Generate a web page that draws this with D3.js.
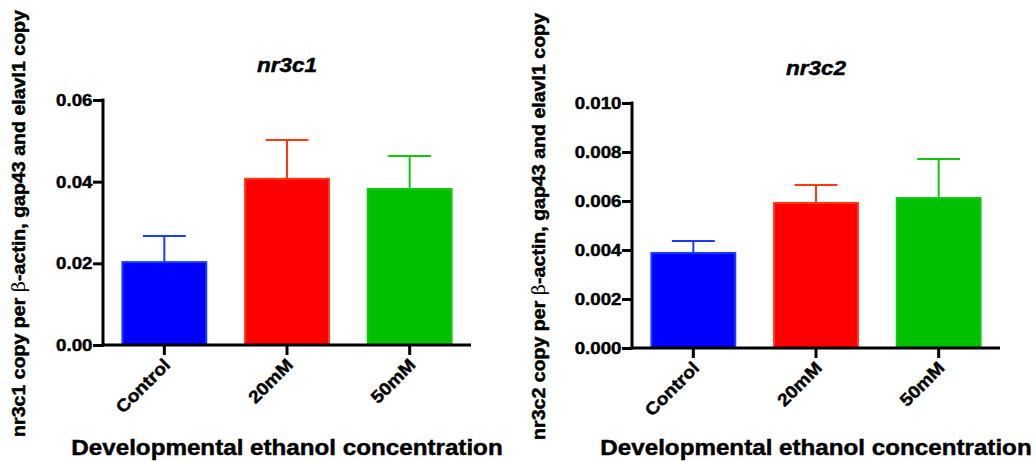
<!DOCTYPE html>
<html>
<head>
<meta charset="utf-8">
<script src="https://cdn.jsdelivr.net/npm/d3@7"></script>
<style>
  html, body { margin: 0; padding: 0; background: #fff; }
  svg { display: block; font-family: "Liberation Sans", Arial, sans-serif; }
  .lbl { fill: #000; stroke: #000; stroke-width: 0.45px; paint-order: stroke; }
</style>
</head>
<body>
<svg id="chart" width="1036" height="461"></svg>
<script>
// Groups on the x axis
const categories = ["Control", "20mM", "50mM"];

// nr3c1: mean and SEM per group
const nr3c1Means = [0.0203, 0.0407, 0.0382];
const nr3c1Sem   = [0.0064, 0.0095, 0.0081];
const nr3c1Ticks = [0, 0.02, 0.04, 0.06];

// nr3c2: mean and SEM per group
const nr3c2Means = [0.00388, 0.00592, 0.00612];
const nr3c2Sem   = [0.00049, 0.00073, 0.00159];
const nr3c2Ticks = [0, 0.002, 0.004, 0.006, 0.008, 0.010];

const fillColors   = ["#0000ff", "#ff0000", "#00c000"];
const strokeColors = ["#1a3cff", "#ff3810", "#10c810"];

// all labels use a slightly widened bold sans
const WIDE = "scale(1.1,1)";
const FONT = "'Liberation Sans', Arial, sans-serif";

const svg = d3.select("#chart");

function drawPanel(opts) {
  const { left, right, top, bottom, title, means, sem, ticks, yMax, fmt, yLabel, yLabelX } = opts;
  const g = svg.append("g");

  const x = d3.scaleBand().domain(categories).range([left, right])
    .paddingInner(0.3).paddingOuter(0.15);
  const y = d3.scaleLinear().domain([0, yMax]).range([bottom, top]);

  const rows = categories.map((c, i) => ({ c, m: means[i], e: sem[i], i }));

  // bars
  g.selectAll("rect.bar").data(rows).join("rect")
    .attr("class", "bar")
    .attr("x", d => x(d.c) + 1)
    .attr("y", d => y(d.m))
    .attr("width", x.bandwidth() - 2)
    .attr("height", d => y(0) - y(d.m))
    .attr("fill", d => fillColors[d.i])
    .attr("stroke", d => strokeColors[d.i])
    .attr("stroke-width", 2);

  // upper error bars
  const cap = x.bandwidth() / 2;
  const eb = g.selectAll("g.err").data(rows).join("g").attr("class", "err")
    .attr("stroke", d => strokeColors[d.i]).attr("stroke-width", 2);
  eb.append("line")
    .attr("x1", d => x(d.c) + x.bandwidth() / 2)
    .attr("x2", d => x(d.c) + x.bandwidth() / 2)
    .attr("y1", d => y(d.m))
    .attr("y2", d => y(d.m + d.e));
  eb.append("line")
    .attr("x1", d => x(d.c) + x.bandwidth() / 2 - cap / 2)
    .attr("x2", d => x(d.c) + x.bandwidth() / 2 + cap / 2)
    .attr("y1", d => y(d.m + d.e))
    .attr("y2", d => y(d.m + d.e));

  // y axis
  const yAxis = g.append("g").attr("transform", `translate(${left},0)`)
    .call(d3.axisLeft(y).tickValues(ticks).tickFormat(fmt).tickSize(10).tickPadding(1).tickSizeOuter(0));
  yAxis.select(".domain").attr("stroke", "#000").attr("stroke-width", 3)
    .attr("d", `M0,${top - 1.5}V${bottom + 1.5}`);
  yAxis.selectAll(".tick line").attr("stroke", "#000").attr("stroke-width", 3);
  yAxis.selectAll(".tick text")
    .attr("class", "lbl")
    .attr("x", 0)
    .attr("transform", `translate(-10.5,0) ${WIDE}`)
    .style("font-size", "17px").style("font-weight", "bold").style("font-family", FONT);

  // x axis
  const xAxis = g.append("g").attr("transform", `translate(0,${bottom})`)
    .call(d3.axisBottom(x).tickSize(10).tickSizeOuter(0));
  xAxis.select(".domain").attr("stroke", "#000").attr("stroke-width", 3)
    .attr("d", `M${left - 1.5},0H${right}`);
  xAxis.selectAll(".tick line").attr("stroke", "#000").attr("stroke-width", 3);
  xAxis.selectAll(".tick text")
    .attr("class", "lbl")
    .attr("text-anchor", "end")
    .attr("dy", null)
    .attr("y", 0)
    .attr("transform", `translate(7,21) rotate(-45) ${WIDE}`)
    .style("font-size", "17.5px").style("font-weight", "bold").style("font-family", FONT);

  const cx = (left + right) / 2;

  // panel title
  g.append("text")
    .attr("class", "lbl")
    .attr("transform", `translate(${cx},${top - 28}) ${WIDE}`)
    .attr("text-anchor", "middle")
    .style("font-size", "20.5px").style("font-weight", "bold").style("font-style", "italic")
    .text(title);

  // x axis title
  g.append("text")
    .attr("class", "lbl")
    .attr("transform", `translate(${cx},455) ${WIDE}`)
    .attr("text-anchor", "middle")
    .style("font-size", "22px").style("font-weight", "bold")
    .text("Developmental ethanol concentration");

  // y axis title
  const yt = g.append("text")
    .attr("class", "lbl")
    .attr("transform", `translate(${yLabelX},${(top + bottom) / 2 + 1}) rotate(-90) ${WIDE}`)
    .attr("text-anchor", "middle")
    .style("font-size", "17.8px").style("font-weight", "bold");
  yt.append("tspan").text(yLabel + " copy per ");
  yt.append("tspan").style("font-weight", "normal").style("stroke-width", "0")
    .style("font-family", "'DejaVu Serif', serif").text("β");
  yt.append("tspan").text("-actin, gap43 and elavl1 copy");
}

drawPanel({
  left: 103, right: 471, top: 100, bottom: 345,
  title: "nr3c1", means: nr3c1Means, sem: nr3c1Sem, ticks: nr3c1Ticks, yMax: 0.06,
  fmt: d3.format(".2f"), yLabel: "nr3c1", yLabelX: 25
});

drawPanel({
  left: 632, right: 1000, top: 103, bottom: 348,
  title: "nr3c2", means: nr3c2Means, sem: nr3c2Sem, ticks: nr3c2Ticks, yMax: 0.010,
  fmt: d3.format(".3f"), yLabel: "nr3c2", yLabelX: 545
});
</script>
</body>
</html>
